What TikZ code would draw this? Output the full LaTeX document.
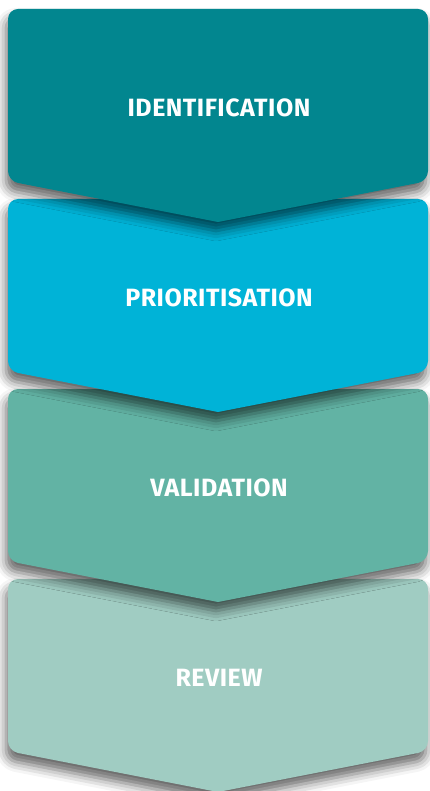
\documentclass[tikz,border=0pt]{standalone}
\usepackage{fontspec}
\setmainfont{Fira Sans}
\usetikzlibrary{shadows.blur}

\definecolor{stepA}{HTML}{02868F}
\definecolor{stepB}{HTML}{00B3D7}
\definecolor{stepC}{HTML}{62B3A4}
\definecolor{stepD}{HTML}{A0CCC2}

\begin{document}
\begin{tikzpicture}[x=1pt, y=-1pt,
                    chevron/.style={rounded corners=10pt,
                        blur shadow={shadow xshift=-2pt, shadow yshift=-9pt,
                                     shadow blur radius=10pt, shadow opacity=60}},
                    steplabel/.style={text=white,
                        font=\fontsize{25}{29}\selectfont\addfontfeatures{LetterSpace=2}\bfseries}]
                \useasboundingbox (0,0) rectangle (429,791);

                % from bottom to top, so each tip lies over the next step
                \foreach \top/\col/\name/\txt in {579/stepD/rev/REVIEW,
                                                389/stepC/val/VALIDATION,
                                                199/stepB/prio/PRIORITISATION,
                                                9/stepA/ident/IDENTIFICATION} {
                    \path [chevron, fill=\col]
                        (8,\top) -- (428,\top) -- (428,\top+172)
                        [sharp corners] -- (218,\top+213) [rounded corners=10pt]
                        -- (8,\top+172) -- cycle;
                    \node [steplabel] (\name) at (219,\top+99) {\txt};
                }
            \end{tikzpicture}
\end{document}
